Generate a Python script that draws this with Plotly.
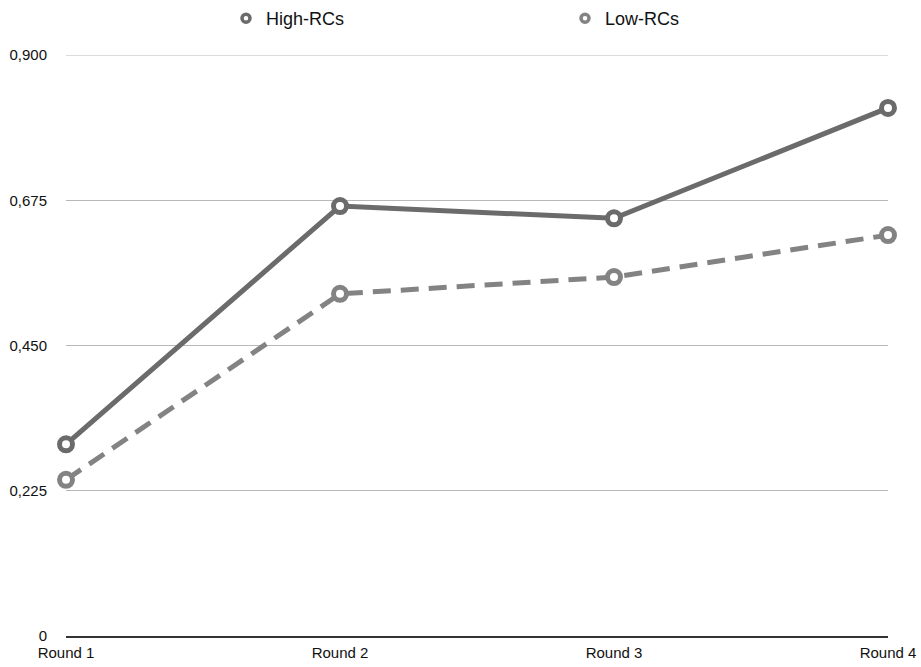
import plotly.graph_objects as go

rounds = ["Round 1", "Round 2", "Round 3", "Round 4"]
high_rcs = [0.297, 0.666, 0.647, 0.818]
low_rcs = [0.242, 0.530, 0.556, 0.621]
y_ticks = [0, 0.225, 0.45, 0.675, 0.9]
y_tick_labels = ["0", "0,225", "0,450", "0,675", "0,900"]

c_high = "#6b6b6b"
c_low = "#838383"
c_grid = "#b8b8b8"

fig = go.Figure()
fig.add_trace(go.Scatter(
    x=rounds, y=high_rcs, mode="lines+markers", name="High-RCs", showlegend=False,
    line=dict(color=c_high, width=5),
    marker=dict(symbol="circle", size=13, color="white", line=dict(color=c_high, width=5)),
    cliponaxis=False))
fig.add_trace(go.Scatter(
    x=rounds, y=low_rcs, mode="lines+markers", name="Low-RCs", showlegend=False,
    line=dict(color=c_low, width=5, dash="18px,10px"),
    marker=dict(symbol="circle", size=13, color="white", line=dict(color=c_low, width=5)),
    cliponaxis=False))
# legend entries (marker only)
for name, c in [("High-RCs", c_high), ("Low-RCs", c_low)]:
    fig.add_trace(go.Scatter(
        x=[None], y=[None], mode="markers", name=name,
        marker=dict(symbol="circle", size=8, color="white", line=dict(color=c, width=3.5))))

# top gridline (plotly omits gridlines at the range edge)
fig.add_shape(type="line", xref="paper", x0=0, x1=1, yref="y",
              y0=y_ticks[-1], y1=y_ticks[-1], line=dict(color=c_grid, width=1),
              layer="below")

fig.update_layout(
    width=921, height=667,
    margin=dict(l=66, r=33, t=55, b=31),
    paper_bgcolor="white", plot_bgcolor="white",
    font=dict(family="Liberation Sans, Arial, sans-serif", size=15, color="#111"),
    showlegend=True,
    legend=dict(orientation="h", x=(226 - 66) / 822, xanchor="left",
                y=1, yref="container", yanchor="top",
                font=dict(size=18, color="#111"),
                entrywidth=294, entrywidthmode="pixels",
                bgcolor="rgba(0,0,0,0)"),
    xaxis=dict(type="category", range=[0, 3], showgrid=False, zeroline=False,
               showline=True, linecolor="#333", linewidth=1.5, automargin=False,
               ticks="", ticklabelstandoff=2, tickfont=dict(size=15, color="#111")),
    yaxis=dict(range=[0, 0.9], tickvals=y_ticks, ticktext=y_tick_labels,
               showgrid=True, gridcolor=c_grid, gridwidth=1, automargin=False,
               zeroline=False, showline=False, ticks="",
               ticklabelstandoff=18, tickfont=dict(size=15, color="#111")),
)

fig.write_html("out.html")
